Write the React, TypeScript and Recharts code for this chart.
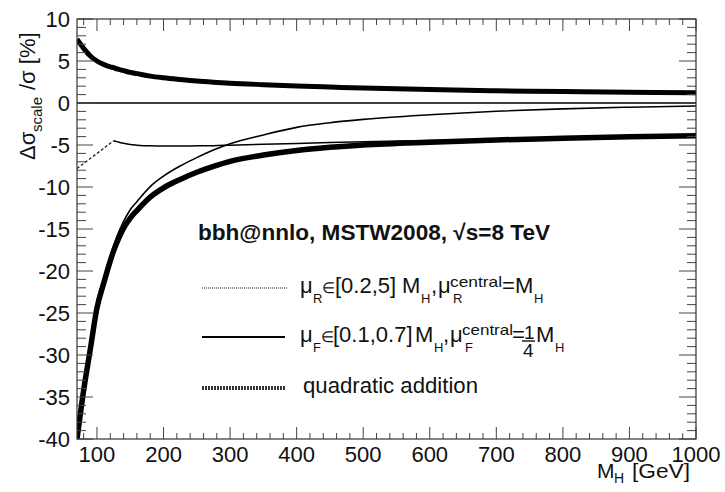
import React from "react";
import { LineChart, Line, XAxis, YAxis } from "recharts";

const mass = [70, 80, 90, 100, 110, 120, 125, 130, 140, 150, 160, 180, 200, 225, 250, 275, 300, 350, 400, 450, 500, 600, 700, 800, 900, 1000];
const quadUp = [7.6, 6.5, 5.6, 5.0, 4.6, 4.3, 4.2, 4.05, 3.85, 3.65, 3.5, 3.2, 3.0, 2.8, 2.62, 2.48, 2.36, 2.18, 2.02, 1.9, 1.78, 1.6, 1.46, 1.36, 1.28, 1.22];
const quadDown = [-40, -34.2, -29.3, -24.4, -21.5, -18.8, -17.6, -16.6, -14.9, -13.7, -12.8, -11.2, -10.1, -9.1, -8.25, -7.55, -6.95, -6.2, -5.65, -5.28, -5.0, -4.66, -4.4, -4.2, -4.03, -3.9];
const muFDown = [-39.2, -33.5, -28.6, -23.7, -20.9, -18.2, -17.0, -15.9, -14.1, -12.7, -11.75, -9.95, -8.7, -7.5, -6.5, -5.6, -4.85, -3.8, -2.9, -2.35, -1.95, -1.4, -0.98, -0.7, -0.5, -0.35];
const muFUp = [0, 0, 0, 0, 0, 0, 0, 0, 0, 0, 0, 0, 0, 0, 0, 0, 0, 0, 0, 0, 0, 0, 0, 0, 0, 0];
const muRDown = [-7.8, -7.2, -6.6, -6.0, -5.4, -4.8, -4.5, -4.6, -4.8, -4.95, -5.02, -5.1, -5.12, -5.12, -5.1, -5.08, -5.02, -4.92, -4.82, -4.7, -4.6, -4.45, -4.3, -4.15, -4.0, -3.88];

const xTicks = [80, 100, 120, 140, 160, 180, 200, 220, 240, 260, 280, 300, 320, 340, 360, 380, 400, 420, 440, 460, 480, 500, 520, 540, 560, 580, 600, 620, 640, 660, 680, 700, 720, 740, 760, 780, 800, 820, 840, 860, 880, 900, 920, 940, 960, 980, 1000];
const yTicks = [-40, -39, -38, -37, -36, -35, -34, -33, -32, -31, -30, -29, -28, -27, -26, -25, -24, -23, -22, -21, -20, -19, -18, -17, -16, -15, -14, -13, -12, -11, -10, -9, -8, -7, -6, -5, -4, -3, -2, -1, 0, 1, 2, 3, 4, 5, 6, 7, 8, 9, 10];

const title = "bbh@nnlo, MSTW2008, \u221As=8 TeV";
const legend3 = "quadratic addition";

const data = mass.map((m, i) => ({
  m,
  quadUp: quadUp[i],
  quadDown: quadDown[i],
  muFDown: muFDown[i],
  muFUp: muFUp[i],
  muRLow: m <= 125 ? muRDown[i] : null,
  muRHigh: m >= 125 ? muRDown[i] : null,
}));

const W = 725;
const H = 492;
const P = { left: 77, right: 696, top: 19, bottom: 439 };
const FONT = "'Liberation Sans', Arial, Helvetica, sans-serif";
const TICK = "#444";

const XTick = (props: any) => {
  const { x, payload } = props;
  const v = payload.value;
  const major = v % 100 === 0;
  const len = major ? 12 : 6;
  return (
    <g>
      <line x1={x} x2={x} y1={P.bottom} y2={P.bottom - len} stroke={TICK} strokeWidth={1} />
      <line x1={x} x2={x} y1={P.top} y2={P.top + len} stroke={TICK} strokeWidth={1} />
      {major && (
        <text x={x} y={462} textAnchor="middle" fontSize={22} fontFamily={FONT} fill="#111">
          {v}
        </text>
      )}
    </g>
  );
};

const YTick = (props: any) => {
  const { y, payload } = props;
  const v = payload.value;
  const major = v % 5 === 0;
  const lenL = major ? 16 : 9;
  const lenR = major ? 17 : 9;
  return (
    <g>
      <line x1={P.left} x2={P.left + lenL} y1={y} y2={y} stroke={TICK} strokeWidth={1} />
      <line x1={P.right} x2={P.right - lenR} y1={y} y2={y} stroke={TICK} strokeWidth={1} />
      {major && (
        <text x={70} y={y + 7.8} textAnchor="end" fontSize={22} fontFamily={FONT} fill="#111">
          {v}
        </text>
      )}
    </g>
  );
};

export default function App() {
  return (
    <div style={{ position: "absolute", left: 0, top: 0, width: W, height: H, background: "#fff" }}>
      <LineChart width={W} height={H} data={data} margin={{ top: P.top, right: W - P.right, bottom: 0, left: 0 }}>
        <XAxis
          type="number"
          dataKey="m"
          domain={[70, 1000]}
          ticks={xTicks}
          interval={0}
          allowDataOverflow
          tick={XTick}
          tickLine={false}
          axisLine={false}
          height={H - P.bottom}
        />
        <YAxis
          type="number"
          domain={[-40, 10]}
          ticks={yTicks}
          interval={0}
          allowDataOverflow
          tick={YTick}
          tickLine={false}
          axisLine={false}
          width={P.left}
        />
        <Line type="monotoneX" dataKey="muFUp" stroke="#000" strokeWidth={1.5} dot={false} isAnimationActive={false} />
        <Line type="monotoneX" dataKey="muRLow" stroke="#222" strokeWidth={1.3} strokeDasharray="3 2" dot={false} isAnimationActive={false} connectNulls={false} />
        <Line type="monotoneX" dataKey="muRHigh" stroke="#000" strokeWidth={1.5} dot={false} isAnimationActive={false} connectNulls={false} />
        <Line type="monotoneX" dataKey="muFDown" stroke="#000" strokeWidth={1.6} dot={false} isAnimationActive={false} />
        <Line type="monotoneX" dataKey="quadUp" stroke="#000" strokeWidth={5} dot={false} isAnimationActive={false} />
        <Line type="monotoneX" dataKey="quadDown" stroke="#000" strokeWidth={5.5} dot={false} isAnimationActive={false} />
      </LineChart>
      <svg width={W} height={H} style={{ position: "absolute", left: 0, top: 0, pointerEvents: "none" }} fontFamily={FONT}>
        <rect x={P.left} y={P.top} width={P.right - P.left} height={P.bottom - P.top} fill="none" stroke="#333" strokeWidth={1.2} />

        {/* y-axis title */}
        <g transform="translate(35,160) rotate(-90)" fontSize={22} fill="#111">
          <text>
            <tspan x={0} y={0}>Δσ</tspan>
            <tspan x={28} y={7} fontSize={15}>scale</tspan>
            <tspan x={70} y={0}>/σ [%]</tspan>
          </text>
        </g>

        {/* x-axis title */}
        <text fontSize={21} fill="#111">
          <tspan x={597} y={478}>M</tspan>
          <tspan x={614} y={483} fontSize={14}>H</tspan>
          <tspan x={632} y={478} textLength={58} lengthAdjust="spacingAndGlyphs">[GeV]</tspan>
        </text>

        {/* header */}
        <text x={198} y={240} fontSize={22} fontWeight="bold" fill="#111" textLength={352} lengthAdjust="spacingAndGlyphs">
          {title}
        </text>

        {/* legend samples */}
        <line x1={202} x2={287} y1={288} y2={288} stroke="#666" strokeWidth={1.5} strokeDasharray="1 1" />
        <line x1={202} x2={285} y1={337} y2={337} stroke="#000" strokeWidth={2.2} />
        <line x1={202} x2={285} y1={388} y2={388} stroke="#333" strokeWidth={4} strokeDasharray="2 1" />

        {/* legend line 1 */}
        <text fontSize={22} fill="#111">
          <tspan x={300} y={293}>μ</tspan>
          <tspan x={313} y={303} fontSize={13}>R</tspan>
          <tspan x={322} y={293} fontSize={15}>∈</tspan>
          <tspan x={335} y={293}>[0.2,5]</tspan>
          <tspan x={402} y={293}>M</tspan>
          <tspan x={421} y={303} fontSize={13}>H</tspan>
          <tspan x={431} y={293}>,</tspan>
          <tspan x={438} y={293}>μ</tspan>
          <tspan x={453} y={303} fontSize={13}>R</tspan>
          <tspan x={450} y={287} fontSize={15} textLength={52} lengthAdjust="spacingAndGlyphs">central</tspan>
          <tspan x={502} y={293}>=</tspan>
          <tspan x={515} y={293}>M</tspan>
          <tspan x={534} y={303} fontSize={13}>H</tspan>
        </text>

        {/* legend line 2 */}
        <text fontSize={22} fill="#111">
          <tspan x={300} y={342}>μ</tspan>
          <tspan x={313} y={352} fontSize={13}>F</tspan>
          <tspan x={321} y={342} fontSize={15}>∈</tspan>
          <tspan x={333} y={342}>[0.1,0.7]</tspan>
          <tspan x={415} y={342}>M</tspan>
          <tspan x={434} y={352} fontSize={13}>H</tspan>
          <tspan x={443} y={342}>,</tspan>
          <tspan x={450} y={342}>μ</tspan>
          <tspan x={465} y={352} fontSize={13}>F</tspan>
          <tspan x={462} y={335} fontSize={15} textLength={51} lengthAdjust="spacingAndGlyphs">central</tspan>
          <tspan x={512} y={342}>=</tspan>
          <tspan x={524} y={339} fontSize={19}>1</tspan>
          <tspan x={523} y={357} fontSize={19}>4</tspan>
          <tspan x={536} y={342}>M</tspan>
          <tspan x={555} y={352} fontSize={13}>H</tspan>
        </text>
        <line x1={522} x2={535} y1={341} y2={341} stroke="#111" strokeWidth={1.4} />

        {/* legend line 3 */}
        <text x={303} y={393} fontSize={22} fill="#111" textLength={175} lengthAdjust="spacingAndGlyphs">
          {legend3}
        </text>
      </svg>
    </div>
  );
}
